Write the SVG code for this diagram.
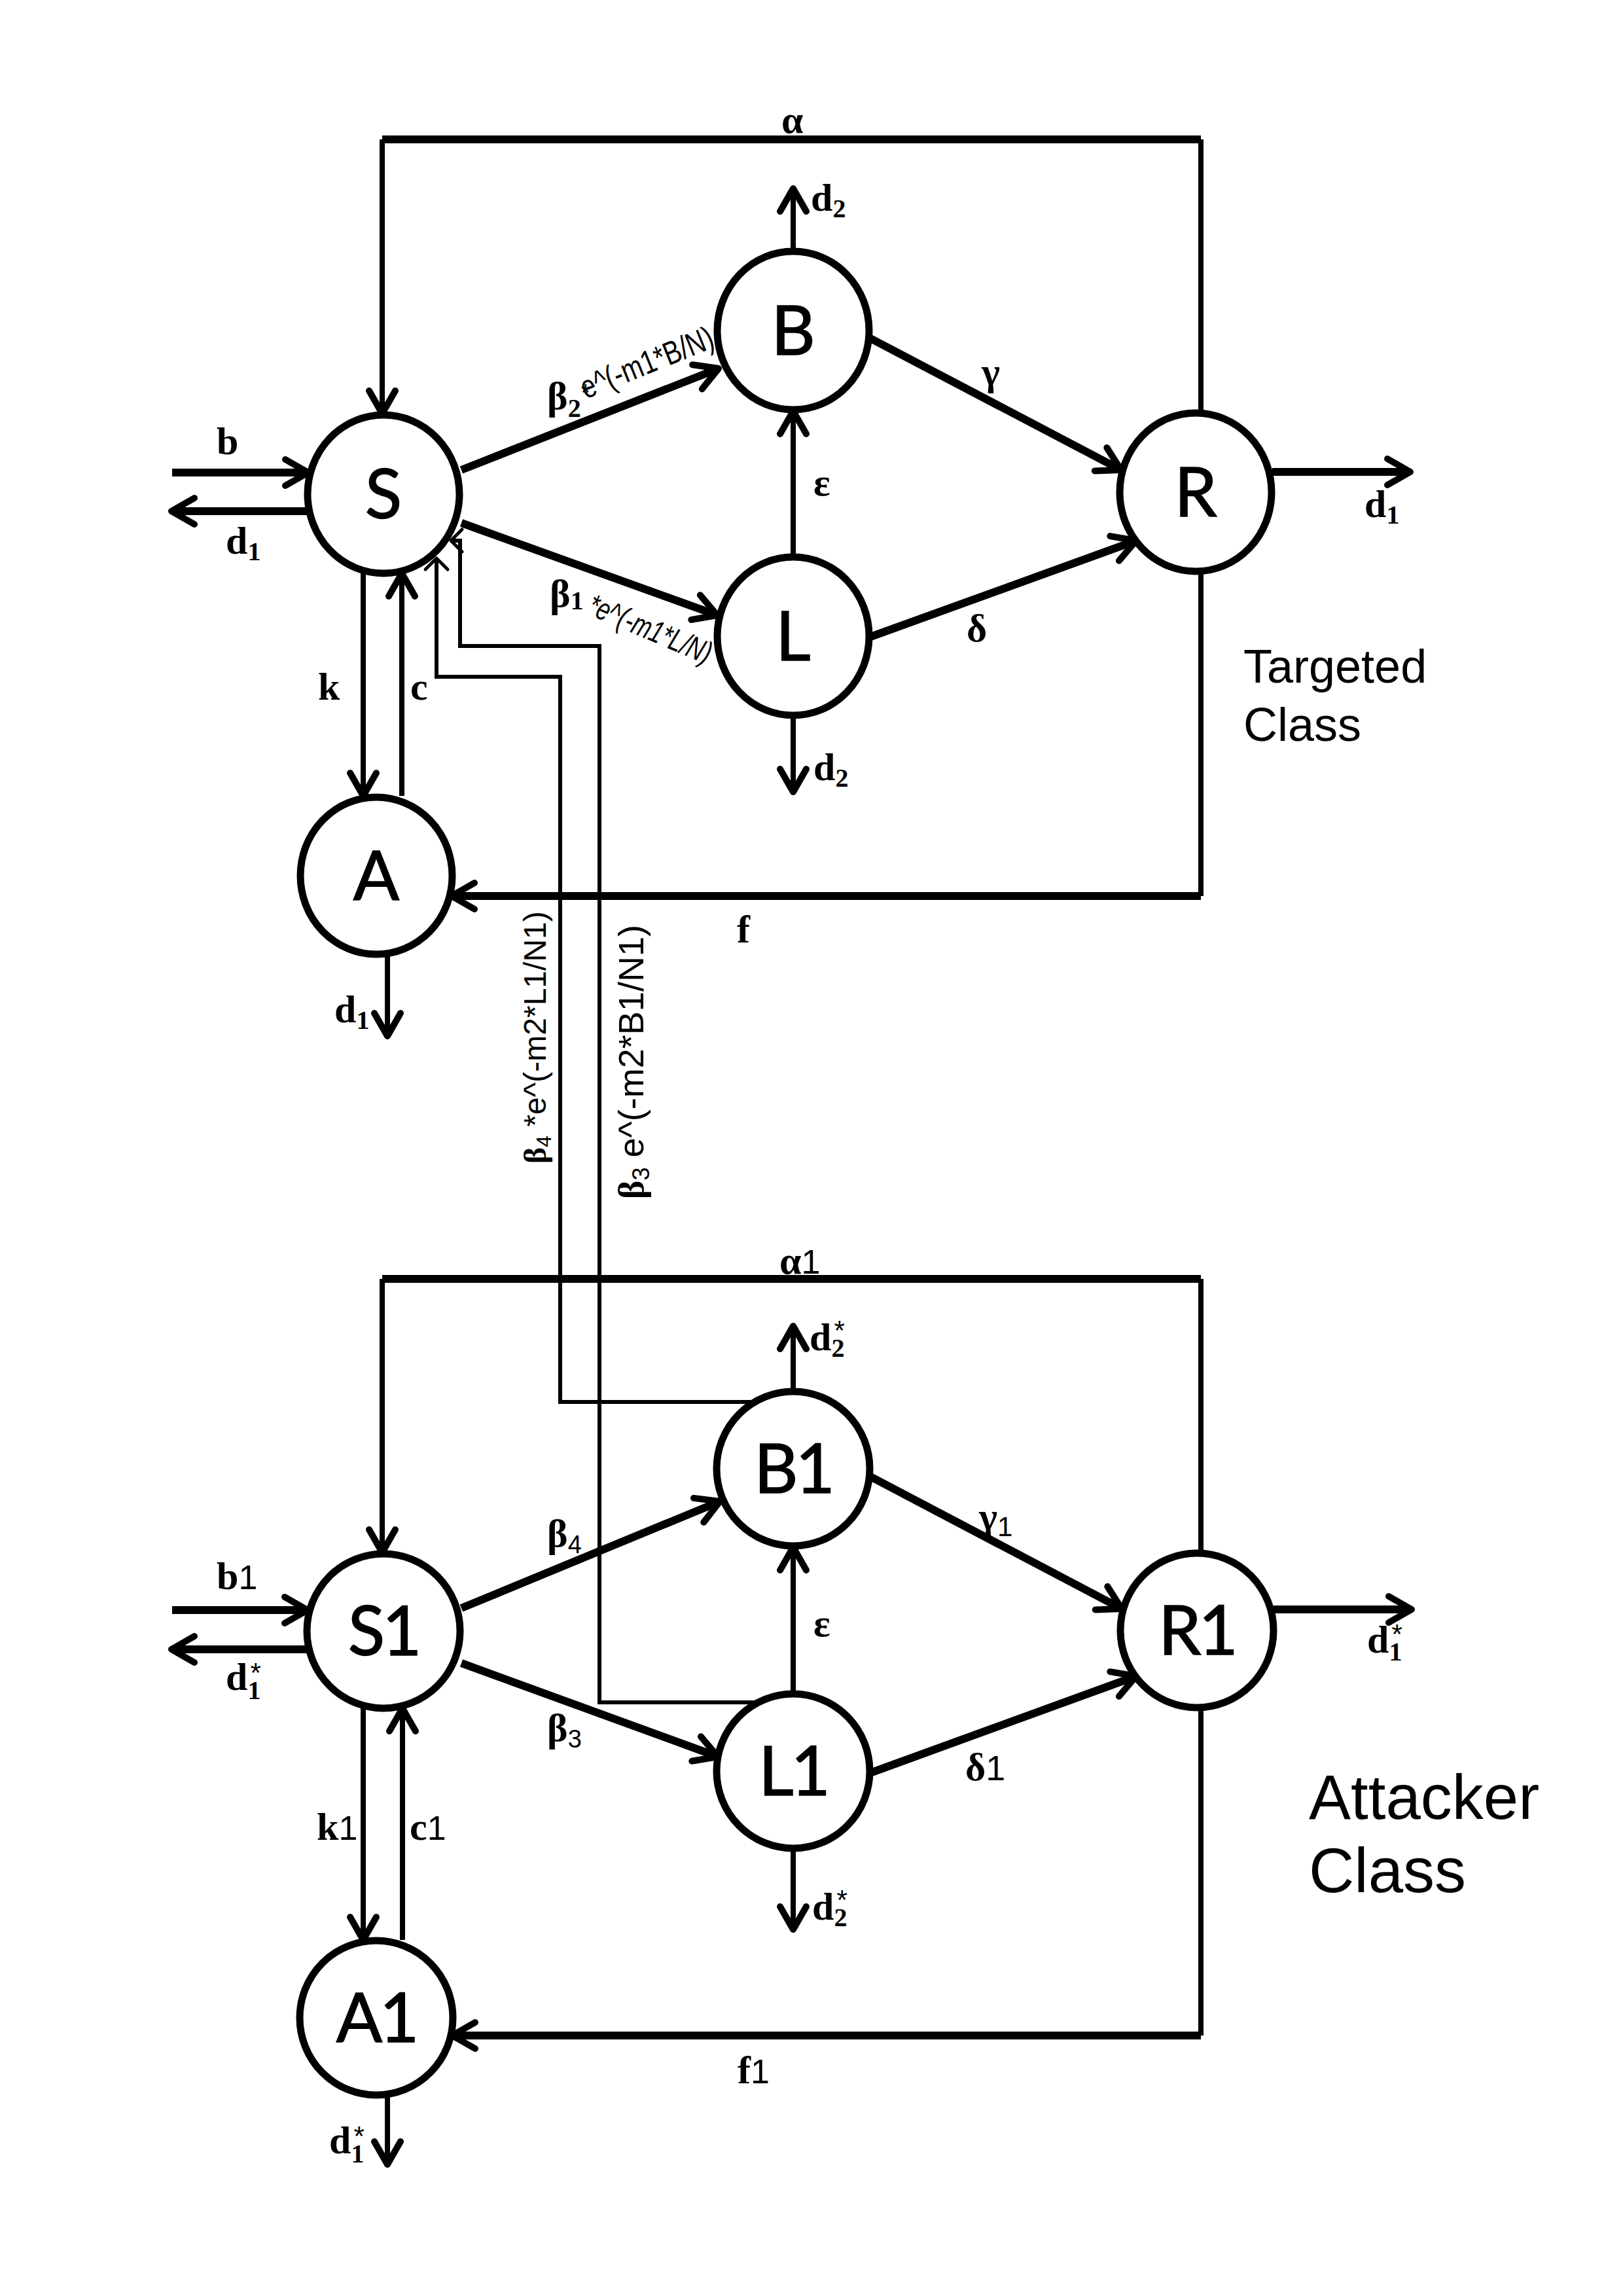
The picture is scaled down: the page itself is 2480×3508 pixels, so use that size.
<svg xmlns="http://www.w3.org/2000/svg" width="2480" height="3508" viewBox="0 0 2480 3508">
<defs>
<style>
.nd{fill:#fff;stroke:#000;stroke-width:11}
.nt{font-family:Lato,"Open Sans","Liberation Sans",sans-serif;font-size:104px;text-anchor:middle;fill:#000;stroke:#000;stroke-width:1.5}
.lb{font-family:"Liberation Serif","Times New Roman",serif;font-weight:bold;font-size:60px;fill:#000}
.gk{font-family:"Liberation Serif","Times New Roman",serif;font-weight:bold}
.sn{font-family:"Liberation Sans",Arial,sans-serif;font-weight:normal}
.sb{font-size:40px}
.tk{stroke:#000;stroke-width:12;fill:none}
.tn{stroke:#000;stroke-width:8;fill:none}
.xs{stroke:#000;stroke-width:6;fill:none}
.cls{font-family:"Liberation Sans",Arial,sans-serif;fill:#000}
</style>
<marker id="ah" viewBox="-44 -28 56 56" markerWidth="56" markerHeight="56" refX="0" refY="0" orient="auto" markerUnits="userSpaceOnUse">
<path d="M-35,-20 L0,0 L-35,20" fill="none" stroke="#000" stroke-width="10" stroke-linecap="round" stroke-linejoin="round"/>
</marker>
<marker id="ahs" viewBox="-24 -22 30 44" markerWidth="30" markerHeight="44" refX="0" refY="0" orient="auto" markerUnits="userSpaceOnUse">
<path d="M-17,-17 L0,0 L-17,17" fill="none" stroke="#000" stroke-width="5" stroke-linecap="round" stroke-linejoin="round"/>
</marker>
</defs>
<rect width="2480" height="3508" fill="#fff"/>

<g id="connectors">
<!-- upper (targeted) -->
<path class="tk" d="M584,213 H1835"/>
<path class="tn" d="M1835,213 V631"/>
<path class="tn" d="M584,213 V632" marker-end="url(#ah)"/>
<path class="tn" d="M1835,873 V1369"/>
<path class="tk" d="M1835,1369 H690" marker-end="url(#ah)"/>
<path class="tk" d="M263,722 H471" marker-end="url(#ah)"/>
<path class="tk" d="M473,781 H262" marker-end="url(#ah)"/>
<path class="tn" d="M555,875 V1216" marker-end="url(#ah)"/>
<path class="tn" d="M614,1216 V876" marker-end="url(#ah)"/>
<path class="tn" d="M592,1458 V1583" marker-end="url(#ah)"/>
<path class="tk" d="M705,718 L1098,563" marker-end="url(#ah)"/>
<path class="tk" d="M705,799 L1096,940" marker-end="url(#ah)"/>
<path class="tn" d="M1212,851 V628" marker-end="url(#ah)"/>
<path class="tn" d="M1212,384 V288" marker-end="url(#ah)"/>
<path class="tn" d="M1212,1093 V1210" marker-end="url(#ah)"/>
<path class="tk" d="M1330,517 L1713,718" marker-end="url(#ah)"/>
<path class="tk" d="M1330,973 L1736,826" marker-end="url(#ah)"/>
<path class="tk" d="M1944,721 H2155" marker-end="url(#ah)"/>
<!-- lower (attacker) -->
<path class="tk" d="M584,1954 H1835"/>
<path class="tn" d="M1835,1954 V2373"/>
<path class="tn" d="M584,1954 V2372" marker-end="url(#ah)"/>
<path class="tn" d="M1835,2609 V3110"/>
<path class="tk" d="M1835,3110 H691" marker-end="url(#ah)"/>
<path class="tk" d="M263,2460 H470" marker-end="url(#ah)"/>
<path class="tk" d="M471,2520 H262" marker-end="url(#ah)"/>
<path class="tn" d="M555,2608 V2964" marker-end="url(#ah)"/>
<path class="tn" d="M615,2964 V2610" marker-end="url(#ah)"/>
<path class="tn" d="M592,3200 V3307" marker-end="url(#ah)"/>
<path class="tk" d="M705,2457 L1100,2294" marker-end="url(#ah)"/>
<path class="tk" d="M705,2541 L1097,2684" marker-end="url(#ah)"/>
<path class="tn" d="M1212,2588 V2364" marker-end="url(#ah)"/>
<path class="tn" d="M1212,2126 V2026" marker-end="url(#ah)"/>
<path class="tn" d="M1212,2824 V2948" marker-end="url(#ah)"/>
<path class="tk" d="M1330,2256 L1714,2458" marker-end="url(#ah)"/>
<path class="tk" d="M1332,2708 L1736,2561" marker-end="url(#ah)"/>
<path class="tk" d="M1946,2459 H2157" marker-end="url(#ah)"/>
<!-- cross-class infection paths -->
<path class="xs" d="M1150,2142 H856 V1034 H667 V853" marker-end="url(#ahs)"/>
<path class="xs" d="M1160,2601 H916 V987 H703 V826 H689" marker-end="url(#ahs)"/>
</g>

<g id="labels">
<text class="lb" x="1194" y="203">α</text>
<text class="lb" x="331" y="694">b</text>
<text class="lb" x="345" y="846">d<tspan class="sb" dy="10">1</tspan></text>
<text class="lb" x="486" y="1069">k</text>
<text class="lb" x="627" y="1069">c</text>
<text class="lb" x="511" y="1562">d<tspan class="sb" dy="10">1</tspan></text>
<text class="lb" x="1126" y="1440">f</text>
<text class="lb" x="1239" y="322">d<tspan class="sb" dy="10">2</tspan></text>
<text class="lb" x="1243" y="757">ε</text>
<text class="lb" x="1243" y="1192">d<tspan class="sb" dy="10">2</tspan></text>
<text class="lb" x="1500" y="588">γ</text>
<text class="lb" x="1477" y="980">δ</text>
<text class="lb" x="2085" y="790">d<tspan class="sb" dy="10">1</tspan></text>
<text class="lb" x="836" y="625">β<tspan class="sb" dy="12">2</tspan><tspan class="sn" font-size="36" dy="-24">*</tspan></text>
<text class="sn" font-size="50" transform="translate(895,610) rotate(-22)" textLength="215" lengthAdjust="spacingAndGlyphs">e^(-m1*B/N)</text>
<text class="lb" x="840" y="927">β<tspan class="sb" dy="4">1</tspan></text>
<text class="sn" font-size="48" font-style="italic" transform="translate(895,937) rotate(23)" textLength="200" lengthAdjust="spacingAndGlyphs">*e^(-m1*L/N)</text>
<text class="sn" font-size="48" transform="translate(834,1778) rotate(-90)"><tspan class="gk">β</tspan><tspan font-size="32" dy="8">4</tspan><tspan dy="-8"> *e^(-m2*L1/N1)</tspan></text>
<text class="sn" font-size="54" transform="translate(983,1832) rotate(-90)"><tspan class="gk">β</tspan><tspan font-size="36" dy="9">3</tspan><tspan dy="-9"> e^(-m2*B1/N1)</tspan></text>

<text class="lb" x="1191" y="1946">α<tspan class="sn" font-size="52">1</tspan></text>
<text class="lb" x="331" y="2428">b<tspan class="sn" font-size="52">1</tspan></text>
<text class="lb" x="345" y="2582">d<tspan class="sb" dy="14">1</tspan><tspan class="sn" font-size="42" dx="-16" dy="-26">*</tspan></text>
<text class="lb" x="484" y="2811">k<tspan class="sn" font-size="52">1</tspan></text>
<text class="lb" x="626" y="2811">c<tspan class="sn" font-size="52">1</tspan></text>
<text class="lb" x="503" y="3290">d<tspan class="sb" dy="14">1</tspan><tspan class="sn" font-size="42" dx="-16" dy="-26">*</tspan></text>
<text class="lb" x="1127" y="3183">f<tspan class="sn" font-size="52">1</tspan></text>
<text class="lb" x="1237" y="2063">d<tspan class="sb" dy="10">2</tspan><tspan class="sn" font-size="42" dx="-16" dy="-26">*</tspan></text>
<text class="lb" x="1243" y="2500">ε</text>
<text class="lb" x="1241" y="2933">d<tspan class="sb" dy="10">2</tspan><tspan class="sn" font-size="42" dx="-16" dy="-26">*</tspan></text>
<text class="lb" x="1496" y="2337">γ<tspan class="sn" font-size="42" dy="10">1</tspan></text>
<text class="lb" x="1475" y="2720">δ<tspan class="sn" font-size="54">1</tspan></text>
<text class="lb" x="2089" y="2525">d<tspan class="sb" dy="12">1</tspan><tspan class="sn" font-size="42" dx="-16" dy="-26">*</tspan></text>
<text class="lb" x="836" y="2363">β<tspan class="sn" font-size="38" dy="10">4</tspan></text>
<text class="lb" x="836" y="2660">β<tspan class="sn" font-size="38" dy="10">3</tspan></text>

<text class="cls" font-size="72" x="1900" y="1043">Targeted</text>
<text class="cls" font-size="72" x="1900" y="1132">Class</text>
<text class="cls" font-size="96" x="2000" y="2779">Attacker</text>
<text class="cls" font-size="96" x="2000" y="2891">Class</text>
</g>

<g id="node-S"><ellipse class="nd" cx="586" cy="755" rx="116" ry="121"/><text class="nt" x="586" y="792">S</text></g>
<g id="node-B"><ellipse class="nd" cx="1212" cy="505" rx="116" ry="121"/><text class="nt" x="1212" y="542">B</text></g>
<g id="node-L"><ellipse class="nd" cx="1212" cy="972" rx="116" ry="121"/><text class="nt" x="1212" y="1009">L</text></g>
<g id="node-R"><ellipse class="nd" cx="1827" cy="752" rx="116" ry="121"/><text class="nt" x="1827" y="789">R</text></g>
<g id="node-A"><ellipse class="nd" cx="575" cy="1338" rx="116" ry="120"/><text class="nt" x="575" y="1375">A</text></g>
<g id="node-S1"><ellipse class="nd" cx="586" cy="2492" rx="117" ry="118"/><text class="nt" x="586" y="2529" letter-spacing="-4">S1</text></g>
<g id="node-B1"><ellipse class="nd" cx="1212" cy="2244" rx="117" ry="118"/><text class="nt" x="1212" y="2281" letter-spacing="-4">B1</text></g>
<g id="node-L1"><ellipse class="nd" cx="1212" cy="2706" rx="117" ry="118"/><text class="nt" x="1212" y="2743" letter-spacing="-4">L1</text></g>
<g id="node-R1"><ellipse class="nd" cx="1829" cy="2491" rx="117" ry="118"/><text class="nt" x="1829" y="2528" letter-spacing="-4">R1</text></g>
<g id="node-A1"><ellipse class="nd" cx="575" cy="3083" rx="117" ry="118"/><text class="nt" x="575" y="3120" letter-spacing="-4">A1</text></g>
</svg>
